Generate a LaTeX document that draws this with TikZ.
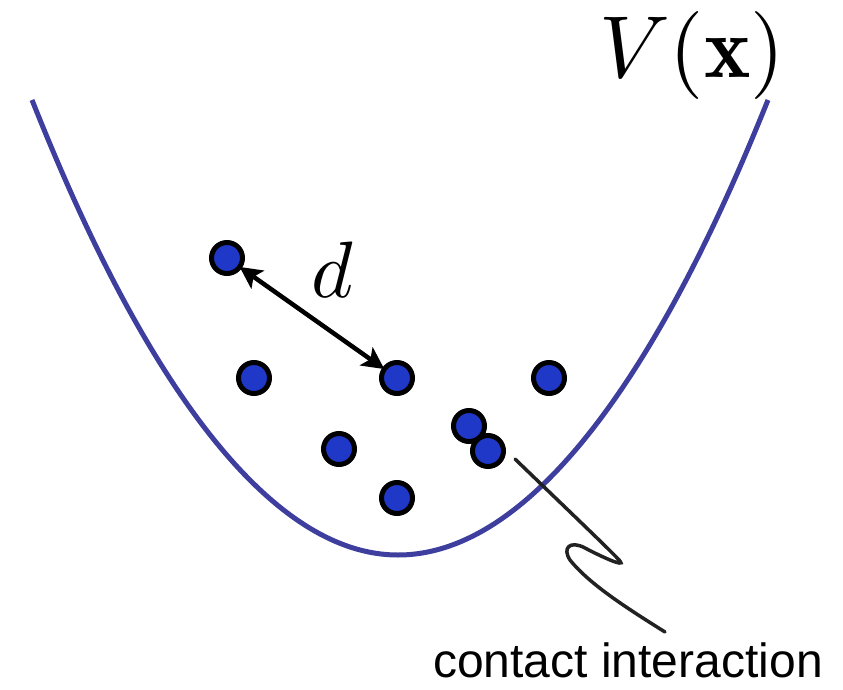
\documentclass[tikz,border=0pt]{standalone}
\usepackage{fontspec}
\usetikzlibrary{arrows.meta}
\newfontfamily\helv{Liberation Sans}
\definecolor{wellblue}{HTML}{3E3E9E}
\definecolor{dotblue}{HTML}{2038C8}
\definecolor{squig}{HTML}{222222}
\begin{document}
\begin{tikzpicture}[x=1pt,y=-1pt,
  dot/.style={circle,draw=black,fill=dotblue,line width=5pt,minimum size=31pt,inner sep=0pt,outer sep=0pt},
  well/.style={draw=wellblue,line width=5pt},
  distarrow/.style={black,line width=4.5pt,{Stealth[length=22pt,width=22pt,inset=5pt]}-{Stealth[length=22pt,width=22pt,inset=5pt]}},
  contact/.style={draw=squig,line width=3.5pt,line cap=round}]
\useasboundingbox (0,0) rectangle (843,690);
% potential well
\draw[well] (32,100) parabola bend (398,555) (768,100);
% particles
\node[dot] (d1) at (227,258) {};
\node[dot] (d2) at (254,378) {};
\node[dot] (d3) at (397,378) {};
\node[dot] (d4) at (549,378) {};
\node[dot] (d5) at (339,449) {};
\node[dot] (d6) at (397,498) {};
\node[dot] (d7) at (469,426) {};
\node[dot] (d8) at (488,451) {};
% distance arrow
\draw[distarrow] (d1) -- (d3);
\node (dl) at (332,270) {\scalebox{8}{$d$}};
% potential label
\node (vl) at (692,56) {\scalebox{8.8}{$V(\mathbf{x})$}};
% contact interaction
\coordinate (cs) at (515,459);
\coordinate (ce) at (665,632);
\draw[contact] (cs) .. controls (570,512) and (612,552) .. (620,561)
  .. controls (626,568) and (600,556) .. (585,548)
  .. controls (570,540) and (562,548) .. (570,560)
  .. controls (590,585) and (630,610) .. (ce);
\node[font=\helv\fontsize{48}{56}\selectfont,anchor=base,inner sep=0pt] (cl) at (628,677) {contact interaction};
\end{tikzpicture}
\end{document}
